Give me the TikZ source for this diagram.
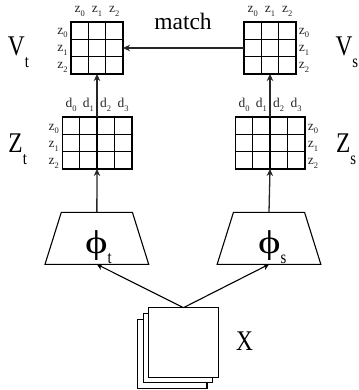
\documentclass[tikz,border=0pt]{standalone}
\usepackage{fontspec}
\setmainfont{Liberation Serif}
\newfontfamily\narrowfont[FakeStretch=0.82]{Liberation Serif}
\newfontfamily\widefont[FakeStretch=1.3]{Liberation Serif}
\usetikzlibrary{shapes.geometric,arrows.meta,calc}
\newcommand{\bigsym}[2]{{\fontsize{28.5}{28}\narrowfont #1\raisebox{-12pt}{\fontsize{18}{18}\selectfont #2}}}
\newcommand{\phisym}[2]{{\fontsize{33}{33}\widefont #1\raisebox{-10pt}{\fontsize{18}{18}\narrowfont #2}}}
\newcommand{\smalllab}[2]{{\fontsize{13.5}{14}\selectfont #1\raisebox{-3.5pt}{\fontsize{8.5}{9}\selectfont #2}}}
\tikzset{
  x=1pt,y=-1pt,
  gridbox/.style={draw=black,line width=1.5pt,minimum width=#1,minimum height=52pt,inner sep=0pt,outer sep=0pt},
  gridline/.style={draw=black,line width=1.4pt},
  conn/.style={draw=black!85,line width=1.3pt,-{Stealth[length=7pt,width=6.5pt]}},
  thinconn/.style={draw=black,line width=1.1pt,-{Stealth[length=6pt,width=6.5pt]}},
  trap/.style={draw=black,line width=1.1pt,trapezium,trapezium stretches=true,trapezium left angle=76.3,trapezium right angle=76.3,minimum width=103.7pt,minimum height=52pt,inner sep=1pt,outer sep=0pt},
  sheet/.style={draw=black,line width=1.1pt,fill=white,minimum width=69.5pt,minimum height=69.5pt,inner sep=0pt,outer sep=0pt},
  biglab/.style={anchor=base west,inner sep=0pt,outer sep=0pt},
  smlab/.style={anchor=center,inner sep=0pt,outer sep=0pt,text=black!85},
  matchlab/.style={anchor=base,inner sep=0pt,font=\fontsize{23.5}{23}\selectfont},
}
\newcommand{\gridthree}[2]{%
  \node[gridbox=52pt] (#1) at (#2,48) {};
  \draw[gridline] ($(#1.north west)+(17.33,0)$) -- ($(#1.south west)+(17.33,0)$);
  \draw[gridline] ($(#1.north west)+(34.67,0)$) -- ($(#1.south west)+(34.67,0)$);
  \draw[gridline] ($(#1.north west)+(0,17.33)$) -- ($(#1.north east)+(0,17.33)$);
  \draw[gridline] ($(#1.north west)+(0,34.67)$) -- ($(#1.north east)+(0,34.67)$);
}
\newcommand{\gridfour}[2]{%
  \node[gridbox=69.5pt] (#1) at (#2,143) {};
  \draw[gridline] ($(#1.north west)+(17.37,0)$) -- ($(#1.south west)+(17.37,0)$);
  \draw[gridline] ($(#1.north west)+(34.75,0)$) -- ($(#1.south west)+(34.75,0)$);
  \draw[gridline] ($(#1.north west)+(52.12,0)$) -- ($(#1.south west)+(52.12,0)$);
  \draw[gridline] ($(#1.north west)+(0,17.33)$) -- ($(#1.north east)+(0,17.33)$);
  \draw[gridline] ($(#1.north west)+(0,34.67)$) -- ($(#1.north east)+(0,34.67)$);
}
\begin{document}
\begin{tikzpicture}
\useasboundingbox (0,0) rectangle (358,390);
\gridthree{vt}{97}
\gridthree{vs}{270}
\gridfour{zt}{97}
\gridfour{zs}{270}
\foreach \n/\cx in {a/97,b/270}{
  \node[smlab] (\n z0) at (\cx-17.3,11.5) {\smalllab{z}{0}};
  \node[smlab] (\n z1) at (\cx,11.5) {\smalllab{z}{1}};
  \node[smlab] (\n z2) at (\cx+17.3,11.5) {\smalllab{z}{2}};
  \node[smlab] (\n d0) at (\cx-26,105) {\smalllab{d}{0}};
  \node[smlab] (\n d1) at (\cx-8.7,105) {\smalllab{d}{1}};
  \node[smlab] (\n d2) at (\cx+8.7,105) {\smalllab{d}{2}};
  \node[smlab] (\n d3) at (\cx+26,105) {\smalllab{d}{3}};
}
\foreach \n/\x/\yy in {l/62.5/33,r/304/33,p/53.8/129,q/313/129}{
  \node[smlab] (\n z0) at (\x,\yy) {\smalllab{z}{0}};
  \node[smlab] (\n z1) at (\x,\yy+17.3) {\smalllab{z}{1}};
  \node[smlab] (\n z2) at (\x,\yy+34.6) {\smalllab{z}{2}};
}
\node[biglab] (vtl) at (8,56) {\bigsym{V}{t}};
\node[biglab] (ztl) at (8.5,152.7) {\bigsym{Z}{t}};
\node[biglab] (vsl) at (335.5,56) {\bigsym{V}{s}};
\node[biglab] (zsl) at (336,152.7) {\bigsym{Z}{s}};
\node[matchlab] (match) at (183,30) {match};
\node[trap] (pt) at (96.85,238.3) {\phantom{x}};
\node[trap] (ps) at (269,238.3) {\phantom{x}};
\node[biglab] (ptl) at (85,253) {\phisym{ϕ}{t}};
\node[biglab] (psl) at (258,253) {\phisym{ϕ}{s}};
\node[sheet] (x3) at (172.2,353.8) {};
\node[sheet] (x2) at (177.9,348.1) {};
\node[sheet] (x1) at (183.5,342.4) {};
\node[biglab] (xl) at (236,350.7) {\fontsize{28.5}{28}\narrowfont X};
\draw[conn] (vs.west) -- (vt.east);
\draw[conn] (zt.north) -- (vt.south);
\draw[conn] (zs.north) -- (vs.south);
\draw[conn] (pt.north) -- (zt.south);
\draw[conn] (ps.north) -- (zs.south);
\draw[thinconn] (x1.north) -- (pt.south);
\draw[thinconn] (x1.north) -- (ps.south);
\end{tikzpicture}
\end{document}
